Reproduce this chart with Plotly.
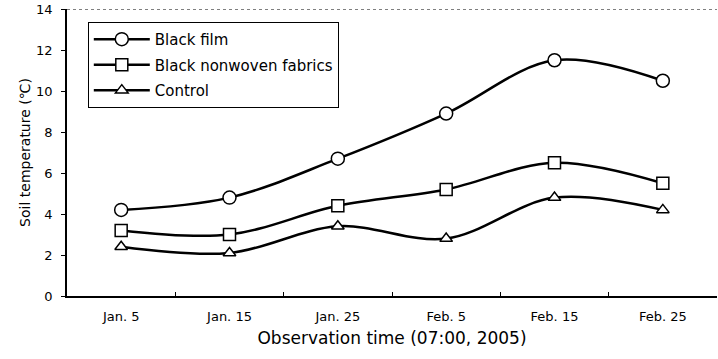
import plotly.graph_objects as go

dates = ["Jan. 5", "Jan. 15", "Jan. 25", "Feb. 5", "Feb. 15", "Feb. 25"]
black_film = [4.2, 4.8, 6.7, 8.9, 11.5, 10.5]
black_nonwoven = [3.2, 3.0, 4.4, 5.2, 6.5, 5.5]
control = [2.4, 2.1, 3.4, 2.8, 4.8, 4.2]

series = [
    ("Black film", black_film, "circle", 13),
    ("Black nonwoven fabrics", black_nonwoven, "square", 12),
    ("Control", control, "triangle-up", 11),
]

fig = go.Figure()
for name, vals, sym, size in series:
    fig.add_trace(go.Scatter(
        x=dates, y=vals, name=name, legendgroup=name, mode="lines+markers",
        line=dict(color="black", width=2.5, shape="spline", smoothing=1.0),
        marker=dict(symbol=sym, size=size, color="white",
                    line=dict(color="black", width=1.5)),
    ))

font = "DejaVu Sans, Verdana, sans-serif"
fig.update_layout(
    width=718, height=359,
    margin=dict(l=67, r=1, t=9, b=63),
    plot_bgcolor="white", paper_bgcolor="white",
    font=dict(family=font, size=13, color="black"),
    showlegend=True,
    legend=dict(x=0.032, y=0.955, xanchor="left", yanchor="top",
                bordercolor="black", borderwidth=1, bgcolor="white",
                font=dict(size=15), tracegroupgap=3, itemwidth=56),
    xaxis=dict(
        type="category", range=[-0.5, 5.5], tickson="boundaries",
        ticks="inside", ticklen=4, tickcolor="black",
        showline=True, linecolor="black", linewidth=1.5, showgrid=False,
        tickfont=dict(size=13), ticklabelstandoff=8,
        title=dict(text="Observation time (07:00, 2005)", font=dict(size=17), standoff=9),
    ),
    yaxis=dict(
        range=[0, 14], dtick=2, ticks="outside", ticklen=4, tickcolor="black",
        showline=True, linecolor="black", linewidth=1.5,
        showgrid=False, zeroline=False,
        tickfont=dict(size=13), ticklabelstandoff=6,
        title=dict(text="Soil temperature (℃)", font=dict(size=14), standoff=2),
    ),
    shapes=[dict(type="line", xref="paper", yref="y", x0=0, x1=1, y0=14, y1=14,
                 line=dict(color="black", width=1, dash="dot"))],
)

fig.write_html("out.html")
